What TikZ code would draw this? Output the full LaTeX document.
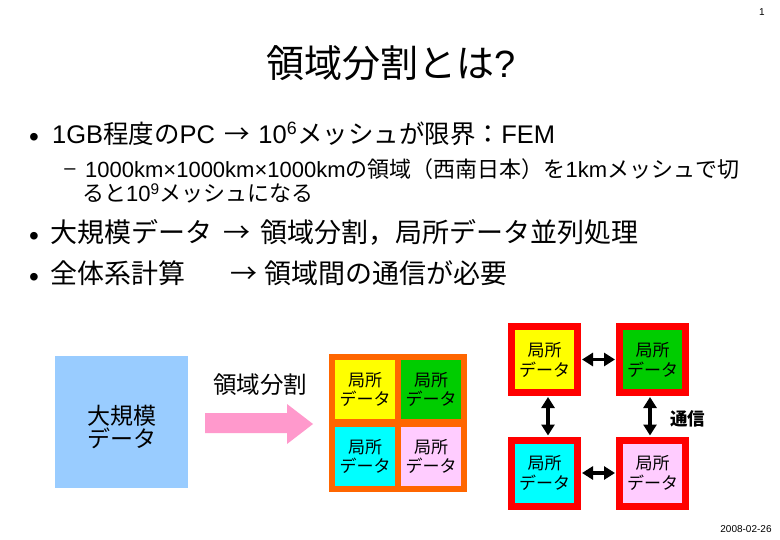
\documentclass[tikz,border=0pt]{standalone}
\usepackage{fontspec}
\setmainfont{Noto Sans CJK JP}
\newfontfamily\la{Liberation Sans}
\usetikzlibrary{arrows.meta}
\definecolor{boxblue}{RGB}{153,204,255}
\definecolor{arrowpink}{RGB}{255,153,204}
\definecolor{partorange}{RGB}{255,102,0}
\definecolor{qyellow}{RGB}{255,255,0}
\definecolor{qgreen}{RGB}{0,204,0}
\definecolor{qcyan}{RGB}{0,255,255}
\definecolor{qpink}{RGB}{255,204,255}
\definecolor{redframe}{RGB}{255,0,0}
\newcommand\fs[1]{\fontsize{#1}{#1}\selectfont}
\begin{document}
\begin{tikzpicture}[x=1pt,y=-1pt,
  txt/.style={inner sep=0pt, anchor=base west},
  bul/.style={inner sep=0pt, font=\la\fs{28}},
  quad/.style={minimum width=60pt, minimum height=59pt, inner sep=0pt, align=center, font=\fontsize{17}{19}\selectfont},
  redbox/.style={draw=redframe, line width=7pt, minimum size=66pt, inner sep=0pt, align=center, font=\fontsize{17}{20}\selectfont},
  link/.style={line width=3.5pt, {Triangle[length=11pt,width=13pt]}-{Triangle[length=11pt,width=13pt]}, shorten <=1pt, shorten >=1pt}]
\useasboundingbox (0,0) rectangle (780,540);
\fill[white] (0,0) rectangle (780,540);
% header / footer
\node[font=\la\fs{10}, inner sep=0pt] (pnum) at (762,12) {1};
\node[font=\la\fs{10}, inner sep=0pt] (date) at (746,529) {2008-02-26};
% title
\node[font=\fs{38}, inner sep=0pt] (title) at (391,63) {領域分割とは{\la ?}};
% bullet 1
\node[bul] (b1) at (34,140) {•};
\node[txt, font=\fs{25.5}] (l1) at (52,143.5) {{\la 1GB}程度の{\la PC}\hspace{0.35em}→\hspace{0.35em}{\la 10\textsuperscript{6}}メッシュが限界：{\la FEM}};
% sub bullet
\node[inner sep=0pt, font=\la\fs{20}] (d1) at (70,172) {–};
\node[txt, font=\fs{22}] (s1) at (85,178) {{\la 1000km×1000km×1000km}の領域（西南日本）を{\la 1km}メッシュで切};
\node[txt, font=\fs{22}] (s2) at (82,202) {ると{\la 10\textsuperscript{9}}メッシュになる};
% bullet 2
\node[bul] (b2) at (34,239) {•};
\node[txt, font=\fs{27}] (l2a) at (50,243) {大規模データ};
\node[txt, font=\fs{27}] (l2b) at (223,243) {→};
\node[txt, font=\fs{27}] (l2c) at (260,243) {領域分割，局所データ並列処理};
% bullet 3
\node[bul] (b3) at (34,280) {•};
\node[txt, font=\fs{27}] (l3a) at (50,284) {全体系計算};
\node[txt, font=\fs{27}] (l3b) at (230,284) {→};
\node[txt, font=\fs{27}] (l3c) at (264,284) {領域間の通信が必要};
% large data box
\node[fill=boxblue, minimum width=133pt, minimum height=132pt, inner sep=0pt] (big) at (121.5,422) {};
\node[align=center, inner sep=0pt, font=\fontsize{23}{23}\selectfont] (bigtxt) at (121.5,427) {大規模\\データ};
% pink arrow
\fill[arrowpink] (205,413) -- (287,413) -- (287,404) -- (313,424) -- (287,444) -- (287,433) -- (205,433) -- cycle;
\node[font=\fs{23.5}, inner sep=0pt] (splitlbl) at (260,385) {領域分割};
% partitioned block
\node[fill=partorange, minimum size=138pt, inner sep=0pt] (part) at (398,423) {};
\node[quad, fill=qyellow] (qa) at (365,389.5) {局所\\データ};
\node[quad, fill=qgreen] (qb) at (431,389.5) {局所\\データ};
\node[quad, fill=qcyan] (qc) at (365,456) {局所\\データ};
\node[quad, fill=qpink] (qd) at (431,456) {局所\\データ};
% communicating domains
\node[redbox, fill=qyellow] (tl) at (544.5,359.5) {局所\\データ};
\node[redbox, fill=qgreen] (tr) at (652.5,359.5) {局所\\データ};
\node[redbox, fill=qcyan] (bl) at (544.5,473) {局所\\データ};
\node[redbox, fill=qpink] (br) at (652.5,473) {局所\\データ};
\draw[link] (tl) -- (tr);
\draw[link] (bl) -- (br);
\draw[link] ([xshift=3.5pt]tl.south) -- ([xshift=3.5pt]bl.north);
\draw[link] ([xshift=-2.5pt]tr.south) -- ([xshift=-2.5pt]br.north);
\node[font=\bfseries\fs{17.5}, inner sep=0pt] (comm) at (687.5,419) {通信};
\end{tikzpicture}
\end{document}
